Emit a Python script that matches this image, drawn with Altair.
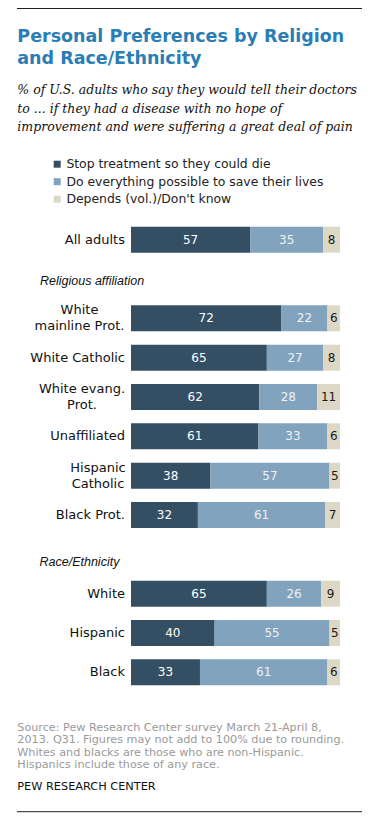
import altair as alt
import pandas as pd

# ---- data ----
categories = ["All adults", "White\nmainline Prot.", "White Catholic", "White evang.\nProt.",
              "Unaffiliated", "Hispanic\nCatholic", "Black Prot.", "White", "Hispanic", "Black"]
series = ["Stop treatment so they could die", "Do everything possible to save their lives",
          "Depends (vol.)/Don't know"]
stop_vals = [57, 72, 65, 62, 61, 38, 32, 65, 40, 33]
everything_vals = [35, 22, 27, 28, 33, 57, 61, 26, 55, 61]
depends_vals = [8, 6, 8, 11, 6, 5, 7, 9, 5, 6]
group_labels = ["Religious affiliation", "Race/Ethnicity"]

title_lines = ["Personal Preferences by Religion", "and Race/Ethnicity"]
subtitle_lines = ["% of U.S. adults who say they would tell their doctors",
                  "to ... if they had a disease with no hope of",
                  "improvement and were suffering a great deal of pain"]
source_lines = ["Source: Pew Research Center survey March 21-April 8,",
                "2013. Q31. Figures may not add to 100% due to rounding.",
                "Whites and blacks are those who are non-Hispanic.",
                "Hispanics include those of any race."]
credit = "PEW RESEARCH CENTER"

# ---- tables ----
rows = []
for i, c in enumerate(categories):
    for j, (s, v) in enumerate(zip(series, [stop_vals[i], everything_vals[i], depends_vals[i]])):
        rows.append({"cat": c, "series": s, "value": v, "order": j})
df = pd.DataFrame(rows)

y_domain = ([categories[0], group_labels[0]] + categories[1:7] +
            [group_labels[1]] + categories[7:])

yscale = alt.Scale(domain=y_domain, paddingInner=0.34, paddingOuter=0.17)
FONT = "DejaVu Sans"

base = alt.Chart(df).transform_stack(
    stack="value", groupby=["cat"], sort=[alt.SortField("order")],
    as_=["x0", "x1"], offset="normalize"
)

bars = base.mark_bar().encode(
    y=alt.Y("cat:N", scale=yscale, axis=None),
    x=alt.X("x0:Q", scale=alt.Scale(domain=[0, 1]), axis=None),
    x2="x1:Q",
    color=alt.Color("series:N", scale=alt.Scale(domain=series,
                    range=["#344f63", "#81a3bd", "#ddd7c5"]),
                    legend=alt.Legend(title=None, orient="none", legendX=-80, legendY=-62,
                                      symbolType="square", symbolSize=49, symbolStrokeWidth=0,
                                      labelFont=FONT, labelFontSize=12.4, labelColor="#222222",
                                      labelOffset=3, rowPadding=4.5, padding=0,
                                      labelLimit=400)),
    order=alt.Order("order:Q"),
)

values = base.transform_calculate(mid="(datum.x0 + datum.x1) / 2").mark_text(
    font=FONT, fontSize=12, baseline="middle", align="center"
).encode(
    y=alt.Y("cat:N", scale=yscale, axis=None),
    x=alt.X("mid:Q", scale=alt.Scale(domain=[0, 1]), axis=None),
    text="value:Q",
    color=alt.Color("series:N", scale=alt.Scale(domain=series,
                    range=["#ffffff", "#eef2f6", "#1a1a1a"]), legend=None),
)

cat_df = pd.DataFrame({"cat": categories})
multi = {"White\nmainline Prot.": -51.5, "White evang.\nProt.": -49, "Hispanic\nCatholic": -33}

single_labels = alt.Chart(cat_df).transform_filter(
    alt.FieldOneOfPredicate(field="cat", oneOf=[c for c in categories if c not in multi])
).mark_text(font=FONT, fontSize=13, align="right", baseline="middle", color="#111111").encode(
    y=alt.Y("cat:N", scale=yscale, axis=None), x=alt.value(-6), text="cat:N")

multi_layers = []
for lab, cx in multi.items():
    multi_layers.append(
        alt.Chart(cat_df).transform_filter(alt.datum.cat == lab).mark_text(
            font=FONT, fontSize=13, align="center", baseline="middle", lineBreak="\n",
            lineHeight=16, dy=-8, color="#111111"
        ).encode(y=alt.Y("cat:N", scale=yscale, axis=None), x=alt.value(cx), text="cat:N"))

grp_df = pd.DataFrame({"cat": group_labels})
grp1 = alt.Chart(grp_df).transform_filter(alt.datum.cat == group_labels[0]).mark_text(
    font="Liberation Sans", fontStyle="italic", fontSize=12.5, align="left", baseline="middle",
    dy=2, color="#111111").encode(y=alt.Y("cat:N", scale=yscale, axis=None),
                                   x=alt.value(-91), text="cat:N")
grp2 = alt.Chart(grp_df).transform_filter(alt.datum.cat == group_labels[1]).mark_text(
    font="Liberation Sans", fontStyle="italic", fontSize=12.5, align="left", baseline="middle",
    dy=8, color="#111111").encode(y=alt.Y("cat:N", scale=yscale, axis=None),
                                   x=alt.value(-91.5), text="cat:N")

title = alt.Chart(pd.DataFrame({"a": [0]})).mark_text(
    font=FONT, fontWeight="bold", fontSize=17.5, align="left", baseline="alphabetic",
    lineHeight=22.5, color="#2a7db5").encode(
    x=alt.value(-113.7), y=alt.value(-178.3), text=alt.value(title_lines))

subtitle = alt.Chart(pd.DataFrame({"a": [0]})).mark_text(
    font="DejaVu Serif", fontStyle="italic", fontSize=12.5, align="left", baseline="alphabetic",
    lineHeight=18.5, color="#111111").encode(
    x=alt.value(-113.7), y=alt.value(-125.7), text=alt.value(subtitle_lines))

source = alt.Chart(pd.DataFrame({"a": [0]})).mark_text(
    font=FONT, fontSize=11.2, align="left", baseline="alphabetic",
    lineHeight=12.6, color="#9a9a9a").encode(
    x=alt.value(-113.7), y=alt.value(510.5), text=alt.value(source_lines))

credit_t = alt.Chart(pd.DataFrame({"a": [0]})).mark_text(
    font=FONT, fontSize=11.3, align="left", baseline="alphabetic", color="#111111").encode(
    x=alt.value(-113.7), y=alt.value(570.3), text=alt.value(credit))

rule_top = alt.Chart(pd.DataFrame({"a": [0]})).mark_rule(color="#222222", strokeWidth=1).encode(
    x=alt.value(-114), x2=alt.value(231), y=alt.value(-211.5))
rule_bot = alt.Chart(pd.DataFrame({"a": [0]})).mark_rule(color="#222222", strokeWidth=1).encode(
    x=alt.value(-114), x2=alt.value(231), y=alt.value(591.7))

chart = alt.layer(
    bars, values, single_labels, *multi_layers, grp1, grp2,
    title, subtitle, source, credit_t, rule_top, rule_bot
).resolve_scale(color="independent").properties(
    width=209, height=472,
    padding={"left": 123, "top": 212, "right": 24, "bottom": 124},
    autosize=alt.AutoSizeParams(type="none"),
).configure_view(stroke=None)

chart.save("out.html", embed_options={"renderer": "svg", "actions": False})
